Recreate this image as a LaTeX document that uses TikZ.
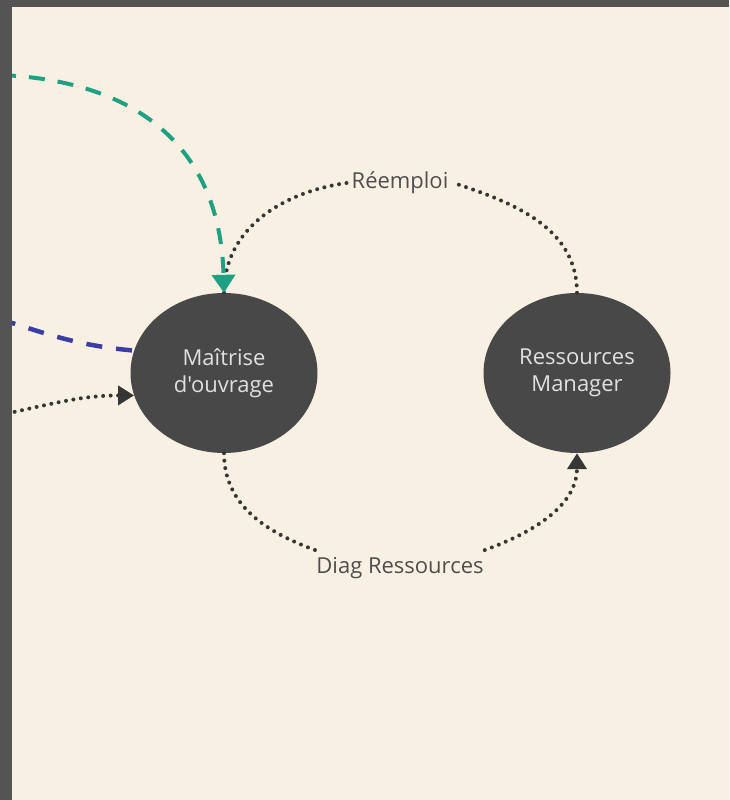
\documentclass[tikz,border=0pt]{standalone}
\usepackage{fontspec}
\setmainfont{Open Sans}[Ligatures=TeXOff]
\usetikzlibrary{
    shapes.geometric,
    arrows.meta, positioning, calc
}
\definecolor{paperCream}{HTML}{F8F1E3}
\definecolor{frameGrey}{HTML}{545454}
\definecolor{actorGrey}{HTML}{484848}
\definecolor{actorText}{HTML}{E0E0E0}
\definecolor{labelGrey}{HTML}{4E4E4E}
\definecolor{dotGrey}{HTML}{363636}
\definecolor{flowTeal}{HTML}{1FA083}
\definecolor{flowIndigo}{HTML}{3B3DA6}
\tikzset{
    % Actors
    actorNode/.style={
        ellipse, fill=actorGrey, draw=none, inner sep=0pt,
        minimum width=187pt, minimum height=160pt,
        text=actorText, align=center, font=\fontsize{22}{30}\selectfont
    },
    % Flow labels
    flowLabel/.style={text=labelGrey, font=\fontsize{22}{26}\selectfont, inner xsep=5pt, inner ysep=2pt},
    % Connectors
    dottedFlow/.style={draw=dotGrey, line width=4pt, line cap=round, dash pattern=on 0pt off 7.5pt},
    dottedArrow/.style={dottedFlow, -{Triangle[width=19pt,length=16pt]}},
    tealFlow/.style={draw=flowTeal, line width=4pt, dash pattern=on 16pt off 13pt, -{Triangle[width=23pt,length=18pt]}},
    indigoFlow/.style={draw=flowIndigo, line width=4.5pt, dash pattern=on 16pt off 14pt}
}
\begin{document}
\begin{tikzpicture}[x=1pt, y=1pt]
    % Page
    \useasboundingbox (0,0) rectangle (729,800);
    \fill[paperCream] (0,0) rectangle (729,800);

    % Actors
    \node[actorNode] (moa) at (224,427) {\raisebox{-3pt}{Maîtrise}\\d'ouvrage};
    \node[actorNode] (resMgr) at (577,427) {\raisebox{-3pt}{Ressources}\\Manager};

    % Labels
    \node[flowLabel] (reemploi) at (400,617) {Réemploi};
    \node[flowLabel, inner xsep=1pt, inner ysep=7pt] (diagRes) at (400,232) {Diag Ressources};

    % Free ends on the left
    \coordinate (tealStart) at (0,725);
    \coordinate (indigoStart) at (0,481);
    \coordinate (dotStart) at (0,385);

    % Loop between the two actors
    \draw[dottedFlow] (resMgr.north) to[out=90, in=-18] (reemploi.east);
    \draw[dottedFlow] (reemploi.west) to[out=188, in=90] (moa.north);
    \draw[dottedFlow] (moa.south) to[out=-90, in=160] (diagRes.north west);
    \draw[dottedArrow] (diagRes.north east) to[out=20, in=-90] (resMgr.south);

    % Incoming flows
    \draw[tealFlow] (tealStart) .. controls (127,720) and (220,661) .. (moa.north);
    \draw[indigoFlow] (indigoStart) to[out=-18, in=175] (moa.166);
    \draw[dottedArrow] (dotStart) to[out=12, in=180] (moa.194);

    % Frame
    \fill[frameGrey] (0,0) rectangle (12,800);
    \fill[frameGrey] (0,793) rectangle (729,800);
\end{tikzpicture}
\end{document}
